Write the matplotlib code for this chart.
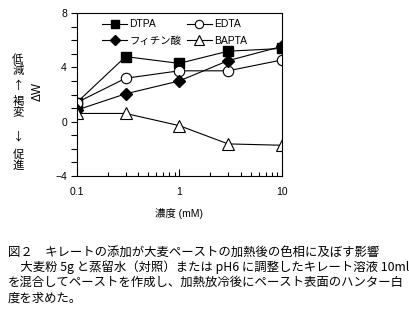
import numpy as np
import matplotlib
matplotlib.use("Agg")
import matplotlib.pyplot as plt
from matplotlib.ticker import MultipleLocator, LogLocator, NullFormatter, FixedFormatter, FixedLocator

plt.rcParams['font.family'] = ['Liberation Sans', 'Noto Sans CJK JP', 'DejaVu Sans']

# concentration (mM)
conc = [0.1, 0.3, 1, 3, 10]
# delta W per chelate
dtpa = [1.4, 4.8, 4.3, 5.2, 5.4]
edta = [1.4, 3.2, 3.75, 3.75, 4.55]
phytic = [0.85, 2.05, 3.0, 4.5, 5.55]
bapta = [0.6, 0.6, -0.3, -1.65, -1.75]

series_names = ['DTPA', 'EDTA', 'フィチン酸', 'BAPTA']
xtick_vals = [0.1, 1, 10]
xtick_labels = ['0.1', '1', '10']

caption = [
    '図２　キレートの添加が大麦ペーストの加熱後の色相に及ぼす影響',
    '　大麦粉 5g と蒸留水（対照）または pH6 に調整したキレート溶液 10ml',
    'を混合してペーストを作成し、加熱放冷後にペースト表面のハンター白',
    '度を求めた。',
]

W, H = 409, 329
fig = plt.figure(figsize=(W / 100, H / 100), dpi=100)
ax = fig.add_axes([76.7 / W, 1 - 175.7 / H, 205 / W, 162.4 / H])

lw = 0.8
h1, = ax.plot(conc, dtpa, color='k', lw=lw, marker='s', ms=7.5, mfc='k', mec='k')
h2, = ax.plot(conc, edta, color='k', lw=lw, marker='o', ms=7.5, mfc='white', mec='k', mew=0.8)
h3, = ax.plot(conc, phytic, color='k', lw=lw, marker='D', ms=6, mfc='k', mec='k')
h4, = ax.plot(conc, bapta, color='k', lw=lw, marker='^', ms=8.5, mfc='white', mec='k', mew=0.8)

ax.set_xscale('log')
ax.set_xlim(0.1, 10)
ax.set_ylim(-4, 8)
ax.xaxis.set_major_locator(FixedLocator(xtick_vals))
ax.xaxis.set_major_formatter(FixedFormatter(xtick_labels))
ax.xaxis.set_minor_locator(LogLocator(base=10, subs=np.arange(2, 10)))
ax.xaxis.set_minor_formatter(NullFormatter())
ax.yaxis.set_major_locator(MultipleLocator(4))
ax.yaxis.set_minor_locator(MultipleLocator(1))
ax.set_yticks([-4, 0, 4, 8])
ax.set_yticklabels(['−4', '0', '4', '8'])

ax.tick_params(axis='x', which='major', direction='in', length=5, width=0.8, labelsize=7.5, pad=8)
ax.tick_params(axis='x', which='minor', direction='in', length=3, width=0.8)
ax.tick_params(axis='y', which='both', direction='out', length=4, width=0.8, labelsize=7.5, pad=3)
for s in ax.spines.values():
    s.set_linewidth(0.8)

ax.set_xlabel('濃度 (mM)', fontsize=7.5, labelpad=8)

leg = ax.legend([h1, h3, h2, h4], [series_names[0], series_names[2], series_names[1], series_names[3]],
                ncol=2, loc='upper left', bbox_to_anchor=(0.08, 1.02), frameon=False,
                fontsize=7.5, handlelength=2.4, handletextpad=0.2, columnspacing=0.5,
                labelspacing=0.6, markerscale=0.8)

# left side vertical annotation
side_chars = [('低', 60), ('減', 70), ('↑', 86), ('褐', 102), ('変', 112), ('↓', 137), ('促', 155), ('進', 166)]
for ch, py in side_chars:
    fig.text(18 / W, 1 - py / H, ch, fontsize=8.2, ha='center', va='center',
             family=['Noto Sans CJK JP', 'DejaVu Sans'])
fig.text(38 / W, 1 - 92 / H, 'ΔW', fontsize=8.5, rotation=90, ha='center', va='center')

# caption
cap_y = [252, 267, 282, 298]
for line, py in zip(caption, cap_y):
    fig.text(8 / W, 1 - py / H, line, fontsize=8.9, ha='left', va='center',
             family=['Noto Sans CJK JP', 'DejaVu Sans'])

fig.savefig('out.png', dpi=100)
